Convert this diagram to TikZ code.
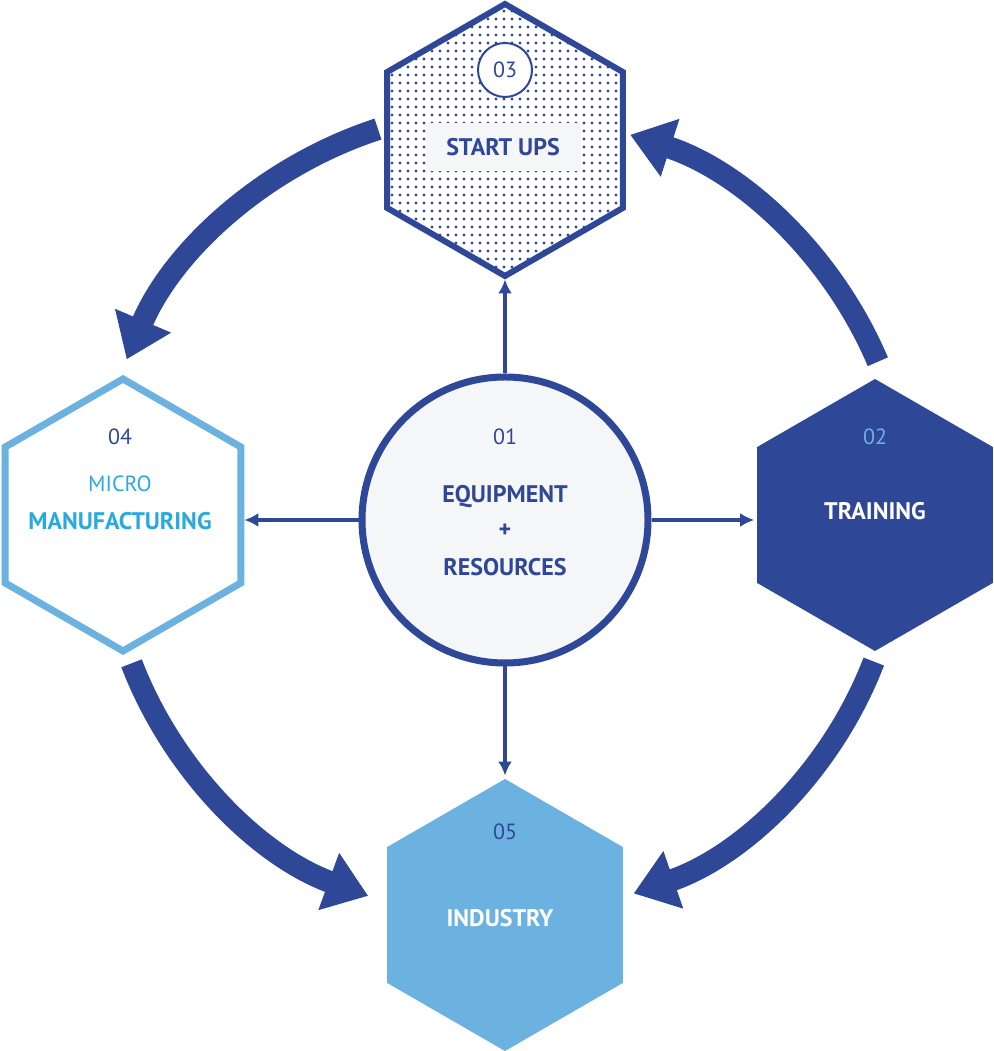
\documentclass[tikz,border=0pt]{standalone}
\usepackage{fontspec}
\setmainfont{PT Sans}
\usetikzlibrary{shapes.geometric,arrows.meta,patterns.meta}
\definecolor{darkblue}{HTML}{2F4797}
\definecolor{lightblue}{HTML}{6CB2E1}
\definecolor{cyanblue}{HTML}{29A9E0}
\definecolor{paleback}{HTML}{F4F6F8}
\begin{document}
\begin{tikzpicture}[x=1pt,y=1pt,
        hexa/.style = {regular polygon, regular polygon sides=6, shape border rotate=30, minimum size=272pt, inner sep=0pt, line width=6pt},
        label/.style = {font=\fontsize{24}{28}\selectfont\bfseries},
        number/.style = {font=\fontsize{22}{26}\selectfont},
        line/.style = {draw=darkblue, line width=4pt, -{Latex[length=14pt,width=14pt]}},
        bigarrow/.style = {draw=darkblue, line width=22pt, -{Triangle[length=42pt,width=58pt]}}
    ]
        \useasboundingbox (0,0) rectangle (993,1051);
        % Nodes
        \node [circle, draw=darkblue, fill=paleback, line width=7pt, minimum size=286pt] (equip) at (505,531) {};
        \node [hexa, draw=darkblue, preaction={fill=white}, pattern={Dots[distance=8pt,radius=1.6pt]}, pattern color=darkblue] (startups) at (505,911) {};
        \node [hexa, draw=lightblue, fill=white, line width=7pt] (micro) at (123,536) {};
        \node [hexa, fill=darkblue] (training) at (875,536) {};
        \node [hexa, fill=lightblue] (industry) at (505,136) {};

        % Texts
        \node [number, text=darkblue] at (505,614) {01};
        \node [label, text=darkblue] at (505,554) {EQUIPMENT};
        \node [label, text=darkblue] at (505,520) {+};
        \node [label, text=darkblue] at (505,484) {RESOURCES};
        \node [circle, draw=darkblue, fill=white, line width=2pt, minimum size=54pt, number, text=darkblue] at (505,981) {03};
        \node [fill=paleback, minimum width=155pt, minimum height=48pt, label, text=darkblue] at (503,904) {START UPS};
        \node [number, text=darkblue] at (120,614) {04};
        \node [number, text=cyanblue] at (120,567) {MICRO};
        \node [label, text=cyanblue] at (120,530) {MANUFACTURING};
        \node [number, text=lightblue] at (875,614) {02};
        \node [label, text=white] at (875,540) {TRAINING};
        \node [number, text=darkblue] at (505,219) {05};
        \node [label, text=white] at (500,133) {INDUSTRY};

        % Lines
        \path [line] (equip.north) -- (startups.south);
        \path [line] (equip.west) -- (equip.west -| micro.east);
        \path [line] (equip.east) -- (equip.east -| training.west);
        \path [line] (equip.south) -- (industry.north);

        % Cycle arrows
        \coordinate (hub) at (505,531);
        \draw [bigarrow] (hub) ++(108:411) arc (108:157:411);
        \draw [bigarrow] (hub) ++(23:405) arc (23:72:405);
        \draw [bigarrow] (hub) ++(-21:395) arc (-21:-71:395);
        \draw [bigarrow] (hub) ++(201:400) arc (201:250:400);
    \end{tikzpicture}
\end{document}
